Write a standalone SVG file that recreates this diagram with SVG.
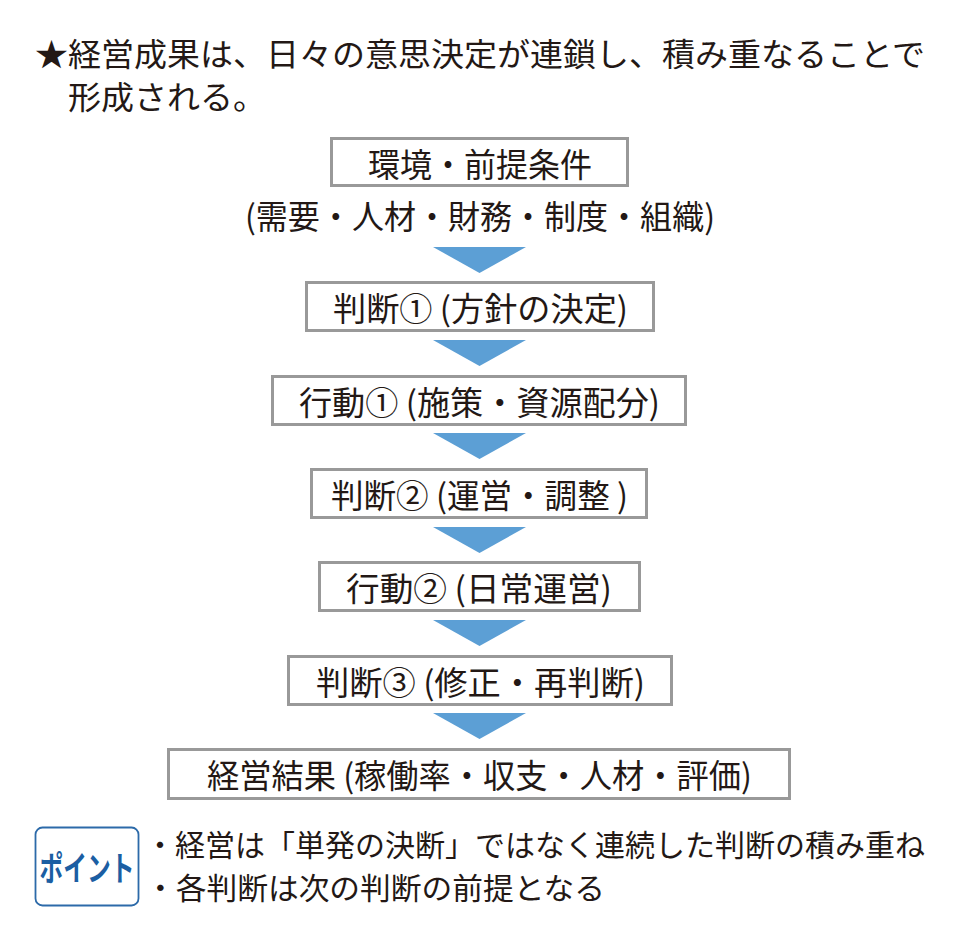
<svg xmlns="http://www.w3.org/2000/svg" width="957" height="944" viewBox="0 0 957 944">
<style>
text{font-family:"Noto Sans CJK JP","Noto Sans CJK SC",sans-serif;fill:#231815;dominant-baseline:central}
.t{font-size:32px}
.b{font-size:33px}
.s{font-size:30px}
.box{fill:#fff;stroke:#999;stroke-width:3}
.arr{fill:#5c9fd5}
.pt{fill:#fff;stroke:#2c6aa9;stroke-width:1.8}
.ptx{font-size:34px;font-weight:bold;fill:#1b5ea3}
</style>
<rect width="957" height="944" fill="#fff"/>
<g id="title">
<text class="t" x="35" y="52" textLength="890" lengthAdjust="spacingAndGlyphs">★経営成果は、日々の意思決定が連鎖し、積み重なることで</text>
<text class="t" x="68" y="95" textLength="198" lengthAdjust="spacingAndGlyphs">形成される。</text>
</g>
<g id="connectors">
<polygon class="arr" points="433,247 526,247 479.5,273"/>
<polygon class="arr" points="433,340 526,340 479.5,366"/>
<polygon class="arr" points="433,433 526,433 479.5,459"/>
<polygon class="arr" points="433,527 526,527 479.5,553"/>
<polygon class="arr" points="433,620 526,620 479.5,646"/>
<polygon class="arr" points="433,713 526,713 479.5,739"/>
</g>
<g id="node-env">
<rect class="box" x="331.5" y="138.5" width="296" height="47"/>
<text class="b" x="368" y="163" textLength="224" lengthAdjust="spacingAndGlyphs">環境・前提条件</text>
<text class="b" x="245" y="215" textLength="470" lengthAdjust="spacingAndGlyphs">(需要・人材・財務・制度・組織)</text>
</g>
<g id="node-judge1">
<rect class="box" x="306.5" y="282.5" width="347" height="48"/>
<text class="b" x="333" y="307" textLength="295" lengthAdjust="spacingAndGlyphs">判断① (方針の決定)</text>
</g>
<g id="node-act1">
<rect class="box" x="272.5" y="376.5" width="413" height="48"/>
<text class="b" x="299" y="401" textLength="361" lengthAdjust="spacingAndGlyphs">行動① (施策・資源配分)</text>
</g>
<g id="node-judge2">
<rect class="box" x="311.5" y="469.5" width="335" height="48"/>
<text class="b" x="331" y="494" textLength="297" lengthAdjust="spacingAndGlyphs">判断② (運営・調整 )</text>
</g>
<g id="node-act2">
<rect class="box" x="319.5" y="562.5" width="320" height="48"/>
<text class="b" x="346" y="587" textLength="266" lengthAdjust="spacingAndGlyphs">行動② (日常運営)</text>
</g>
<g id="node-judge3">
<rect class="box" x="288.5" y="656.5" width="383" height="48"/>
<text class="b" x="316" y="681" textLength="329" lengthAdjust="spacingAndGlyphs">判断③ (修正・再判断)</text>
</g>
<g id="node-result">
<rect class="box" x="168.5" y="749.5" width="621" height="49"/>
<text class="b" x="207" y="774" textLength="545" lengthAdjust="spacingAndGlyphs">経営結果 (稼働率・収支・人材・評価)</text>
</g>
<g id="point">
<rect class="pt" x="35.5" y="827.5" width="103" height="78" rx="7"/>
<text class="ptx" text-anchor="middle" transform="translate(87,866) scale(0.7,1)">ポイント</text>
<text class="s" x="145" y="843" textLength="780" lengthAdjust="spacingAndGlyphs">・経営は「単発の決断」ではなく連続した判断の積み重ね</text>
<text class="s" x="145" y="886" textLength="460" lengthAdjust="spacingAndGlyphs">・各判断は次の判断の前提となる</text>
</g>
</svg>
